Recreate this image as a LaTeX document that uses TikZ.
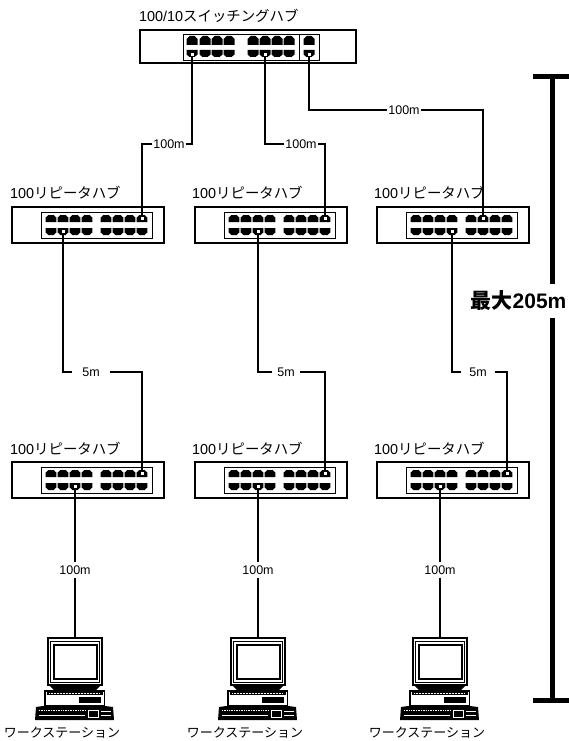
\documentclass[tikz,border=0pt]{standalone}
\usepackage{fontspec}
\setmainfont{Liberation Sans}
\newfontfamily\jpfont{Noto Sans CJK JP}
\usetikzlibrary{positioning,calc}
\begin{document}
\begin{tikzpicture}[x=1pt,y=-1pt,
    case/.style={draw=black, line width=2pt, fill=white},
    panel/.style={draw=black, line width=0.6pt, fill=white},
    cable/.style={black, line width=2pt},
    lab/.style={font=\fontsize{14.4}{14.4}\selectfont, inner sep=0pt, anchor=west},
    len/.style={font=\fontsize{12.5}{14}\selectfont, inner sep=1pt},
    plug/.style={fill=white, draw=none, inner sep=0pt, minimum size=3pt},
    upport/.style={fill=black},
    rep/.pic={
      \draw[case] (0,0) rectangle (152,36);
      \draw[panel] (29.5,5.5) rectangle (140,31);
      \foreach \n/\px in {1/39,2/51,3/63,4/75,5/94,6/106,7/118,8/130}{
        \fill[upport] (\px-5.3,15) -- (\px-5.3,10.5) -- (\px-2.5,8) -- (\px+2.5,8) -- (\px+5.3,10.5) -- (\px+5.3,15) -- cycle;
        \fill[upport] (\px-5.3,21) -- (\px-5.3,25.5) -- (\px-2.5,28) -- (\px+2.5,28) -- (\px+5.3,25.5) -- (\px+5.3,21) -- cycle;
        \coordinate (-p\n) at (\px,11.5);
        \coordinate (-q\n) at (\px,24);
      }
    },
    sw/.pic={
      \draw[case] (0,0) rectangle (216,33);
      \draw[panel] (43.5,4) rectangle (179,30);
      \draw[panel] (159,4) -- (159,30);
      \foreach \n/\px in {1/52,2/65,3/77,4/89,5/113,6/125,7/137,8/149,9/169}{
        \fill[upport] (\px-5.5,15) -- (\px-5.5,9) -- (\px-2.5,6) -- (\px+2.5,6) -- (\px+5.5,9) -- (\px+5.5,15) -- cycle;
        \fill[upport] (\px-5.5,20) -- (\px-5.5,24.5) -- (\px-2.5,27) -- (\px+2.5,27) -- (\px+5.5,24.5) -- (\px+5.5,20) -- cycle;
        \coordinate (-q\n) at (\px,25);
      }
    },
    pc/.pic={
      \coordinate (-top) at (0,0);
      \draw[black, line width=2pt, fill=white] (-27,-1) rectangle (27,46);
      \draw[black, line width=2pt, fill=white] (-21.5,6) rectangle (21.5,40);
      \draw[black, line width=0.6pt] (-24.5,2) rectangle (24.5,43);
      \fill[black] (-25,47) -- (25,47) -- (20,52) -- (-20,52) -- cycle;
      \draw[black, line width=1.6pt, fill=white] (-30,52) rectangle (29.5,67);
      \fill[black] (-28,52) rectangle (28,56);
      \draw[white, line width=0.5pt, densely dotted] (-26,54) -- (24,54);
      \fill[black] (4,58) rectangle (26,64);
      \draw[white, line width=0.5pt] (-27,65) -- (26,65);
      \fill[black] (-32,67) -- (30,67) -- (38,68) -- (39,81) -- (-40,81) -- (-39,68) -- cycle;
      \draw[white, line width=0.7pt, densely dotted] (-36,71) -- (10,71);
      \draw[white, line width=0.7pt] (-36,76) -- (10,76);
      \draw[white, line width=0.7pt] (13,71) rectangle (23,78);
      \draw[white, line width=0.7pt] (26,72) -- (36,72) (26,76) -- (36,76);
    },
]
  \useasboundingbox (0,0) rectangle (569,741);
  %% hubs
  \pic (swhub) at (140,30) {sw};
  \pic (a1) at (12,207) {rep};
  \pic (a2) at (195,207) {rep};
  \pic (a3) at (377,207) {rep};
  \pic (b1) at (12,462) {rep};
  \pic (b2) at (195,462) {rep};
  \pic (b3) at (377,462) {rep};
  %% workstations
  \pic (c1) at (75,639) {pc};
  \pic (c2) at (258,639) {pc};
  \pic (c3) at (440,639) {pc};
  %% labels
  \node[lab] (swlab) at (139,16) {100/10{\jpfont スイッチングハブ}};
  \foreach \nm/\lx/\ly in {la1/10/193,la2/192/193,la3/374/193,lb1/10/449,lb2/192/449,lb3/374/449}
    \node[lab] (\nm) at (\lx,\ly) {100{\jpfont リピータハブ}};
  \foreach \nm/\lx in {ws1/62,ws2/245,ws3/427}
    \node[lab, anchor=center, font=\fontsize{13}{13}\selectfont\jpfont] (\nm) at (\lx,733) {ワークステーション};
  %% lengths
  \node[len] (l1) at (169,144) {100m};
  \node[len] (l2) at (301,144) {100m};
  \node[len] (l3) at (404,110) {100m};
  \node[len, inner xsep=10pt] (m1) at (91,372) {5m};
  \node[len, inner xsep=5pt] (m2) at (286,372) {5m};
  \node[len, inner xsep=8pt] (m3) at (478,372) {5m};
  \node[len, inner ysep=3pt] (n1) at (75,570) {100m};
  \node[len, inner ysep=3pt] (n2) at (258,570) {100m};
  \node[len, inner ysep=3pt] (n3) at (440,570) {100m};
  %% cables
  \draw[cable] (swhub-q1) |- (l1.east); \draw[cable] (l1.west) -| (a1-p8);
  \draw[cable] (swhub-q6) |- (l2.west); \draw[cable] (l2.east) -| (a2-p8);
  \draw[cable] (swhub-q9) |- (l3.west); \draw[cable] (l3.east) -| (a3-p6);
  \draw[cable] (a1-q2) |- (m1.west); \draw[cable] (m1.east) -| (b1-p8);
  \draw[cable] (a2-q3) |- (m2.west); \draw[cable] (m2.east) -| (b2-p8);
  \draw[cable] (a3-q4) |- (m3.west); \draw[cable] (m3.east) -| (b3-p8);
  \draw[cable] (b1-q3) -- (n1); \draw[cable] (n1) -- (c1-top);
  \draw[cable] (b2-q3) -- (n2); \draw[cable] (n2) -- (c2-top);
  \draw[cable] (b3-q3) -- (n3); \draw[cable] (n3) -- (c3-top);
  %% plugs
  \foreach \pp in {swhub-q1,swhub-q6,swhub-q9,a1-p8,a2-p8,a3-p6,a1-q2,a2-q3,a3-q4,b1-p8,b2-p8,b3-p8,b1-q3,b2-q3,b3-q3}
    \node[plug] at (\pp) {};
  %% span bar
  \node[font=\fontsize{21}{21}\selectfont\bfseries, inner sep=0pt, minimum height=34pt] (span) at (518.5,301) {{\jpfont 最大}205m};
  \coordinate (bartop) at (552,77);
  \coordinate (barbot) at (552,700);
  \draw[black, line width=5pt] (bartop) -- (span.north -| bartop);
  \draw[black, line width=5pt] (span.south -| barbot) -- (barbot);
  \draw[black, line width=5pt] (533,77) -- (569,77);
  \draw[black, line width=5pt] (533,700) -- (569,700);
\end{tikzpicture}
\end{document}
